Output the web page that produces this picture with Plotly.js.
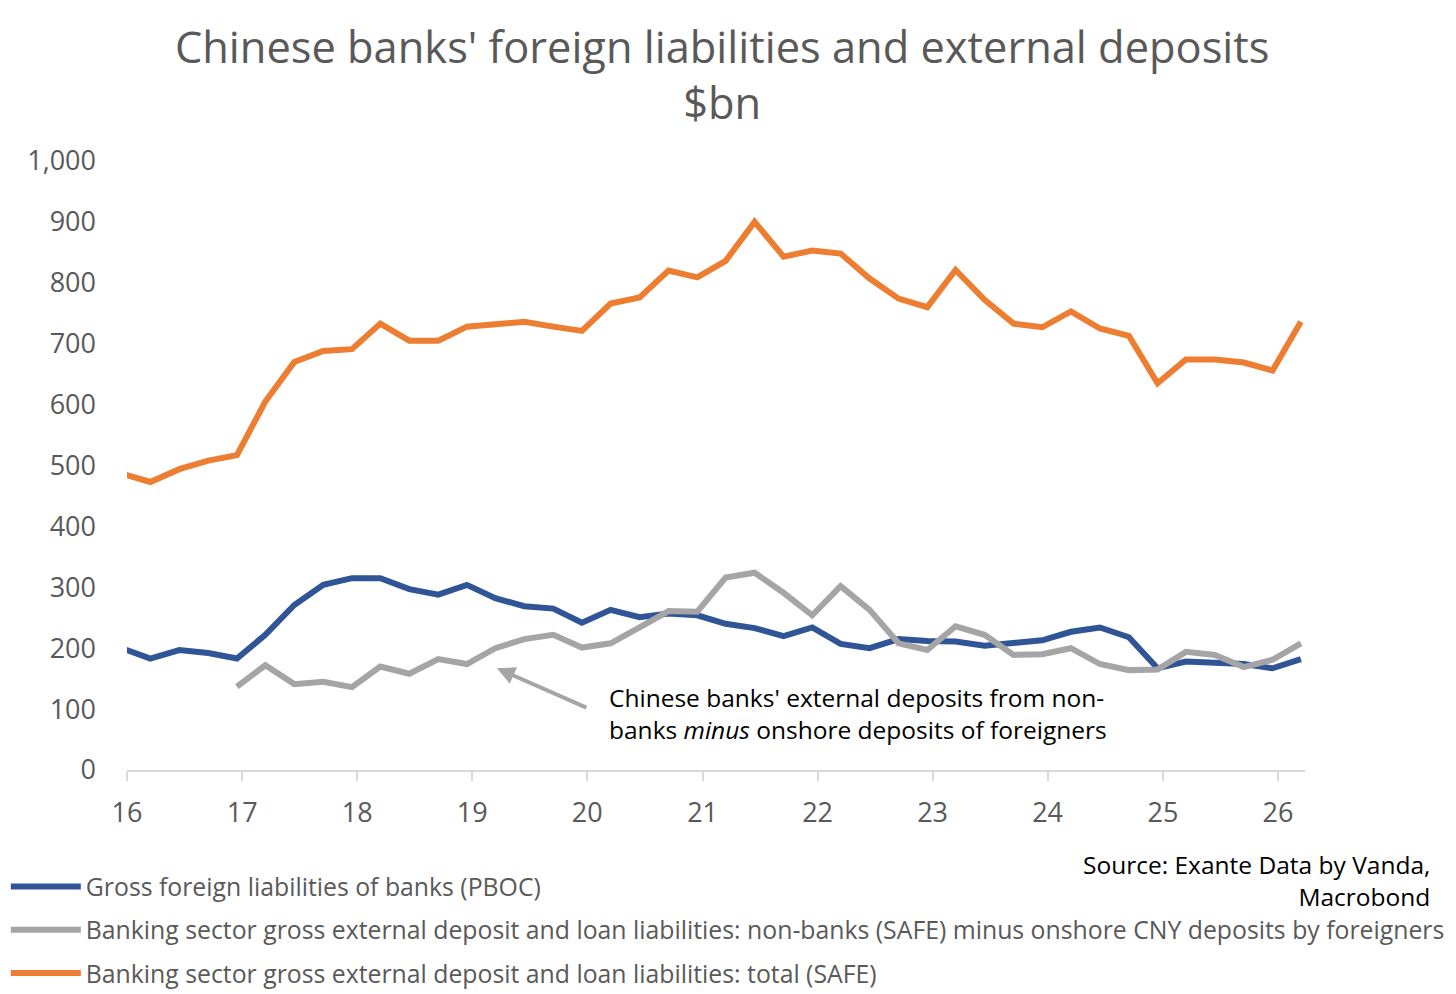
<!DOCTYPE html>
<html>
<head>
<meta charset="utf-8">
<script src="https://cdn.plot.ly/plotly-3.0.1.min.js"></script>
<style>
  html, body { margin: 0; padding: 0; background: #fff; }
  #chart { width: 1456px; height: 994px; }
</style>
</head>
<body>
<div id="chart"></div>
<script>
// quarterly observations, 2015Q4 .. 2026Q1
var quarters = [
    '2015-12-15', '2016-03-15', '2016-06-15', '2016-09-15', '2016-12-15',
    '2017-03-15', '2017-06-15', '2017-09-15', '2017-12-15',
    '2018-03-15', '2018-06-15', '2018-09-15', '2018-12-15',
    '2019-03-15', '2019-06-15', '2019-09-15', '2019-12-15',
    '2020-03-15', '2020-06-15', '2020-09-15', '2020-12-15',
    '2021-03-15', '2021-06-15', '2021-09-15', '2021-12-15',
    '2022-03-15', '2022-06-15', '2022-09-15', '2022-12-15',
    '2023-03-15', '2023-06-15', '2023-09-15', '2023-12-15',
    '2024-03-15', '2024-06-15', '2024-09-15', '2024-12-15',
    '2025-03-15', '2025-06-15', '2025-09-15', '2025-12-15',
    '2026-03-15'
];

var pbocLiabilities = [
    200, 183, 197, 192, 183,
    222, 271, 304, 315,
    315, 297, 288, 304,
    282, 269, 265, 242,
    263, 251, 257, 254,
    240, 233, 220, 234,
    207, 200, 215, 212,
    211, 204, 209, 213,
    227, 234, 218, 167,
    178, 175, 174, 167,
    182
];

var nonBanksNet = [
    null, null, null, null, 137,
    172, 141, 145, 136,
    170, 158, 182, 174,
    200, 215, 222, 201,
    208, 234, 261, 260,
    316, 324, 291, 254,
    302, 263, 208, 197,
    236, 222, 189, 190,
    200, 174, 164, 165,
    194, 189, 169, 181,
    208
];

var safeTotal = [
    487, 473, 494, 508, 517,
    605, 670, 688, 691,
    733, 705, 705, 728,
    732, 736, 728, 721,
    766, 776, 820, 809,
    836, 900, 843, 853,
    848, 807, 774, 760,
    821, 772, 733, 727,
    753, 725, 713, 635,
    674, 674, 669, 656,
    736
];

var seriesNames = [
    'Gross foreign liabilities of banks (PBOC)',
    'Banking sector gross external deposit and loan liabilities: non-banks (SAFE) minus onshore CNY deposits by foreigners',
    'Banking sector gross external deposit and loan liabilities: total (SAFE)'
];

var FONT = '"Open Sans", "Noto Sans", sans-serif';
var GREY_TEXT = '#595959';

function lineTrace(y, name, color, group)
{
    return {
        x: quarters,
        y: y,
        name: name,
        type: 'scatter',
        mode: 'lines',
        connectgaps: false,
        legendgroup: group,
        line: { color: color, width: 6 },
        hoverinfo: 'x+y'
    };
}

var traces = [
    lineTrace(pbocLiabilities, seriesNames[0], '#2F5597', 'a'),
    lineTrace(nonBanksNet, seriesNames[1], '#A5A5A5', 'b'),
    lineTrace(safeTotal, seriesNames[2], '#ED7D31', 'c')
];

var layout = {
    width: 1456,
    height: 994,
    paper_bgcolor: '#ffffff',
    plot_bgcolor: '#ffffff',
    font: { family: FONT, color: GREY_TEXT, size: 26 },
    margin: { l: 127, r: 151, t: 161, b: 224, pad: 0, autoexpand: false },
    title: {
        text: "Chinese banks' foreign liabilities and external deposits<br>$bn",
        font: { family: FONT, size: 43.4, color: GREY_TEXT },
        x: 0.496,
        xanchor: 'center',
        yref: 'container',
        y: 0.937,
        yanchor: 'top'
    },
    xaxis: {
        type: 'date',
        range: ['2016-01-01', '2026-03-28'],
        tick0: '2016-01-01',
        dtick: 'M12',
        tickformat: '%y',
        showgrid: false,
        zeroline: false,
        showline: true,
        linecolor: '#D9D9D9',
        linewidth: 2,
        ticks: 'outside',
        ticklen: 9,
        tickwidth: 2,
        tickcolor: '#D9D9D9',
        ticklabelstandoff: 9,
        tickfont: { family: FONT, size: 27, color: GREY_TEXT }
    },
    yaxis: {
        range: [0, 1000],
        dtick: 100,
        tickformat: ',d',
        showgrid: false,
        zeroline: false,
        showline: false,
        ticks: '',
        ticklabelstandoff: 30,
        tickfont: { family: FONT, size: 27, color: GREY_TEXT }
    },
    showlegend: true,
    legend: {
        orientation: 'v',
        xref: 'container',
        yref: 'container',
        x: 0.004,
        xanchor: 'left',
        y: 0.131,
        yanchor: 'top',
        bgcolor: 'rgba(0,0,0,0)',
        font: { family: FONT, size: 24.8, color: GREY_TEXT },
        tracegroupgap: 8,
        itemwidth: 70
    },
    annotations: [
        {
            // arrow pointing at the grey series
            x: '2019-03-20',
            y: 167,
            xref: 'x',
            yref: 'y',
            text: '',
            showarrow: true,
            arrowhead: 2,
            arrowsize: 0.9,
            arrowwidth: 4,
            arrowcolor: '#A5A5A5',
            ax: 91,
            ay: 40
        },
        {
            x: 0.4075,
            y: 0.092,
            xref: 'paper',
            yref: 'paper',
            xanchor: 'left',
            yanchor: 'middle',
            align: 'left',
            showarrow: false,
            text: "Chinese banks' external deposits from non-<br>banks <i>minus</i> onshore deposits of foreigners",
            font: { family: FONT, size: 24.5, color: '#000000' }
        },
        {
            x: 1.1078,
            y: -0.182,
            xref: 'paper',
            yref: 'paper',
            xanchor: 'right',
            yanchor: 'middle',
            align: 'right',
            showarrow: false,
            text: 'Source: Exante Data by Vanda,<br>Macrobond',
            font: { family: FONT, size: 24.5, color: '#000000' }
        }
    ]
};

Plotly.newPlot('chart', traces, layout, { displayModeBar: false, staticPlot: true });
</script>
</body>
</html>
